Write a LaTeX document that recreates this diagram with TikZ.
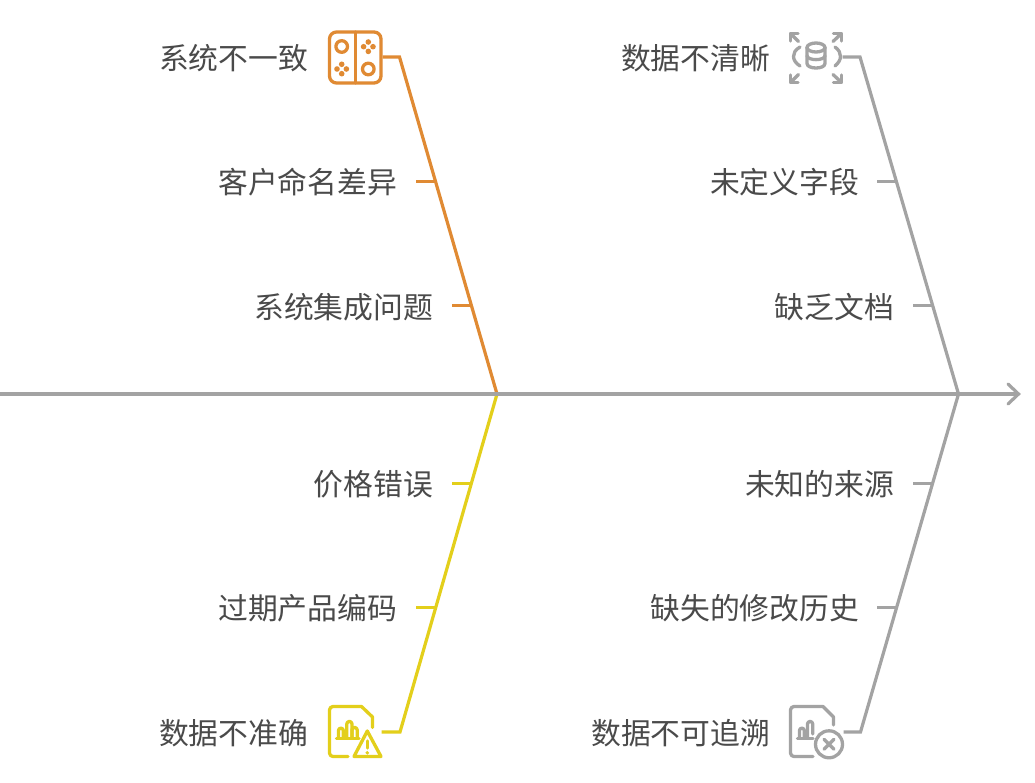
\documentclass[tikz,border=0pt]{standalone}
\usepackage{fontspec}
\setmainfont{Noto Sans CJK SC}
\definecolor{spinegray}{HTML}{A3A3A3}
\definecolor{orangeb}{HTML}{E08A33}
\definecolor{yellowb}{HTML}{E3CF1B}
\definecolor{labelc}{HTML}{4A4A4A}
\tikzset{
  x=1pt,y=-1pt,
  bone/.style={line width=3.2pt,line join=miter},
  stub/.style={line width=3pt},
  lbl/.style={anchor=east,inner sep=0pt,text=labelc,font=\fontsize{29.8pt}{30pt}\selectfont},
  iconbox/.style={inner sep=0pt,minimum width=54pt,minimum height=54pt},
  ico/.style={line width=3.3pt,line cap=round,line join=round,fill=none}
}
\begin{document}
\begin{tikzpicture}
\useasboundingbox (0,0) rectangle (1035,783);
\fill[white] (0,0) rectangle (1035,783);

% icon anchors
\node[iconbox] (iconA) at (355.5,57) {};
\node[iconbox] (iconB) at (815.5,57) {};
\node[iconbox] (iconC) at (354.5,732) {};
\node[iconbox] (iconD) at (816.5,732) {};

% named points
\coordinate (spineL) at (0,394);
\coordinate (spineE) at (1018.5,394);
\coordinate (joinL) at (497,394);
\coordinate (joinR) at (958.5,394);
\coordinate (kneeA) at (399.5,57);
\coordinate (kneeB) at (860,57);
\coordinate (kneeC) at (400,732);
\coordinate (kneeD) at (860.5,732);

% branches
\draw[bone,orangeb] (iconA.east) -- (kneeA) -- (joinL);
\draw[bone,spinegray] (iconB.east) -- (kneeB) -- (joinR);
\draw[bone,yellowb] (iconC.east) -- (kneeC) -- (joinL);
\draw[bone,spinegray] (iconD.east) -- (kneeD) -- (joinR);

% spine
\draw[bone,spinegray] (spineL) -- (spineE);
\draw[bone,spinegray,line cap=round] (1008,384) -- (spineE) -- (1008,404);

% labels
\node[lbl] (a0) at (308.3,58) {系统不一致};
\node[lbl] (a1) at (397.3,182) {客户命名差异};
\node[lbl] (a2) at (433.3,307) {系统集成问题};
\node[lbl] (b0) at (770.3,58) {数据不清晰};
\node[lbl] (b1) at (859.3,182) {未定义字段};
\node[lbl] (b2) at (894.3,307) {缺乏文档};
\node[lbl] (c1) at (433.3,484) {价格错误};
\node[lbl] (c2) at (397.3,608) {过期产品编码};
\node[lbl] (c0) at (308.3,733) {数据不准确};
\node[lbl] (d1) at (894.3,484) {未知的来源};
\node[lbl] (d2) at (859.3,608) {缺失的修改历史};
\node[lbl] (d0) at (770.3,733) {数据不可追溯};

% sub-bone stubs
\coordinate (ja1) at (435.5,182); \coordinate (ja2) at (471.5,306);
\coordinate (jb1) at (896,182);   \coordinate (jb2) at (932,306);
\coordinate (jc1) at (471.5,483); \coordinate (jc2) at (436,607);
\coordinate (jd1) at (932.5,483); \coordinate (jd2) at (897,607);
\draw[stub,orangeb] ([xshift=19pt]a1.east|-ja1) -- (ja1);
\draw[stub,orangeb] ([xshift=19pt]a2.east|-ja2) -- (ja2);
\draw[stub,spinegray] ([xshift=18pt]b1.east|-jb1) -- (jb1);
\draw[stub,spinegray] ([xshift=19pt]b2.east|-jb2) -- (jb2);
\draw[stub,yellowb] ([xshift=19pt]c1.east|-jc1) -- (jc1);
\draw[stub,yellowb] ([xshift=19pt]c2.east|-jc2) -- (jc2);
\draw[stub,spinegray] ([xshift=19pt]d1.east|-jd1) -- (jd1);
\draw[stub,spinegray] ([xshift=18pt]d2.east|-jd2) -- (jd2);

% icon A: game controller
\begin{scope}[orangeb]
\draw[ico,rounded corners=7pt] (329.5,32) rectangle (381,83);
\draw[ico] (355.3,32) -- (355.3,83);
\draw[ico] (341.7,46.5) circle[radius=5.8];
\draw[ico] (368.3,69) circle[radius=5.8];
\foreach \cx/\cy in {368.3/46.7,341.7/69}{
  \foreach \dx/\dy in {4.7/0,-4.7/0,0/4.7,0/-4.7}{
    \fill (\cx+\dx,\cy+\dy) circle[radius=2.8];
  }
}
\end{scope}

% icon B: database with arrows
\begin{scope}[spinegray]
\draw[ico] (798,33.5) -- (790.5,33.5) -- (790.5,41);
\draw[ico] (790.5,33.5) -- (798.5,41.5);
\draw[ico] (833.5,33.5) -- (841.5,33.5) -- (841.5,41);
\draw[ico] (841.5,33.5) -- (833,41.5);
\draw[ico] (790.5,75) -- (790.5,82.5) -- (798,82.5);
\draw[ico] (790.5,82.5) -- (798.5,74.5);
\draw[ico] (841.5,75) -- (841.5,82.5) -- (833.5,82.5);
\draw[ico] (841.5,82.5) -- (833,74.5);
\draw[ico] (816,47.5) ellipse[x radius=9,y radius=4.5];
\draw[ico] (807,47.5) -- (807,63.5) .. controls (807,69.5) and (825,69.5) .. (825,63.5) -- (825,47.5);
\draw[ico] (807,55.5) .. controls (807,61) and (825,61) .. (825,55.5);
\draw[ico] (800,47) .. controls (795,50) and (793.5,53) .. (793.5,56.5) .. controls (793.5,60) and (796,63.5) .. (800,66);
\draw[ico] (835,47) .. controls (839,50) and (840.5,53) .. (840.5,56.5) .. controls (840.5,60) and (838,63.5) .. (835,66);
\end{scope}

% icon C: document with chart and warning
\begin{scope}[yellowb]
\draw[ico] (348,756.5) -- (333,756.5) arc[start angle=90,end angle=180,radius=3.5] -- (329.5,710) arc[start angle=180,end angle=270,radius=3.5] -- (361.5,706.5) -- (372.5,717) -- (372.5,727.5);
\draw[ico] (336.5,738.5) -- (359,738.5);
\draw[ico] (338.5,738) -- (338.5,730.5) arc[start angle=180,end angle=360,radius=2.4] -- (343.3,738);
\draw[ico] (346.8,738) -- (346.8,724) arc[start angle=180,end angle=360,radius=2.6] -- (352,738);
\draw[ico] (352,738) -- (352,730) arc[start angle=180,end angle=360,radius=2.6] -- (357.2,738);
\draw[ico] (367.3,731) -- (381,756.5) -- (354,756.5) -- cycle;
\draw[ico] (367.3,741) -- (367.3,748);
\fill (367.3,752.8) circle[radius=1.9];
\end{scope}

% icon D: document with chart and cross
\begin{scope}[spinegray]
\draw[ico] (813,756.5) -- (794,756.5) arc[start angle=90,end angle=180,radius=3.5] -- (790.5,710) arc[start angle=180,end angle=270,radius=3.5] -- (823,706.5) -- (833.5,717) -- (833.5,725);
\draw[ico] (797.5,738.5) -- (813,738.5);
\draw[ico] (799.5,738) -- (799.5,730.5) arc[start angle=180,end angle=360,radius=2.4] -- (804.3,738);
\draw[ico] (807.5,738) -- (807.5,724) arc[start angle=180,end angle=360,radius=2.6] -- (812.7,734);
\draw[ico] (829,744.3) circle[radius=13.5];
\draw[ico] (824,739.3) -- (834,749.3);
\draw[ico] (834,739.3) -- (824,749.3);
\end{scope}
\end{tikzpicture}
\end{document}
